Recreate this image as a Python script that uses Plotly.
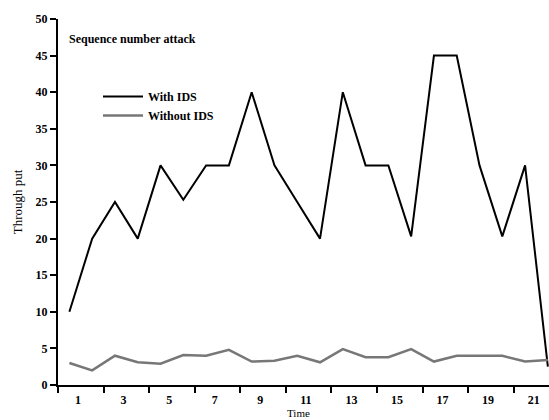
import plotly.graph_objects as go

# Time steps and throughput readings for the two runs
time_steps = list(range(1, 23))
with_ids = [10, 20, 25, 20, 30, 25.3, 30, 30, 40, 30, 25, 20,
            40, 30, 30, 20.3, 45, 45, 30, 20.3, 30, 2.5]
without_ids = [3.0, 2.0, 4.0, 3.1, 2.9, 4.1, 4.0, 4.8, 3.2, 3.3, 4.0, 3.1,
               4.9, 3.8, 3.8, 4.9, 3.2, 4.0, 4.0, 4.0, 3.2, 3.4]

# Category ticks sit between pairs of time steps; labels are odd steps
x_tick_vals = [0.5 + 2 * i for i in range(11)]
x_tick_text = [str(1 + 2 * i) for i in range(11)]
y_tick_vals = list(range(0, 51, 5))

serif = "Liberation Serif"

plot_left, plot_top, plot_bottom = 58, 19, 385
plot_w = 549 - plot_left
plot_h = plot_bottom - plot_top


def px_x(px):
    return (px - plot_left) / plot_w


def px_y(py):
    return (plot_bottom - py) / plot_h


fig = go.Figure()
fig.add_trace(go.Scatter(
    x=time_steps, y=with_ids, mode="lines", name="With IDS",
    line=dict(color="#000000", width=2),
))
fig.add_trace(go.Scatter(
    x=time_steps, y=without_ids, mode="lines", name="Without IDS",
    line=dict(color="#777777", width=2.5),
))

fig.update_layout(
    width=549, height=420,
    margin=dict(l=plot_left, r=0, t=plot_top, b=420 - plot_bottom),
    plot_bgcolor="white", paper_bgcolor="white",
    font=dict(family=serif, size=12, color="black"),
    showlegend=True,
    legend=dict(
        x=px_x(98), y=px_y(82),
        xanchor="left", yanchor="top",
        bgcolor="rgba(0,0,0,0)", tracegroupgap=0,
        font=dict(family=serif, size=12, color="black", weight="bold"),
        itemwidth=40,
    ),
    xaxis=dict(
        range=[0.5, 22.05],
        tickmode="array", tickvals=x_tick_vals, ticktext=x_tick_text,
        ticklabelshift=20, ticklabelstandoff=-3,
        ticks="outside", ticklen=6, tickwidth=2, tickcolor="black",
        showline=True, linecolor="black", linewidth=2,
        showgrid=False, zeroline=False,
        tickfont=dict(family=serif, size=12, weight="bold"),
    ),
    yaxis=dict(
        range=[0, 50],
        tickmode="array", tickvals=y_tick_vals,
        ticks="outside", ticklen=6, tickwidth=2, tickcolor="black",
        showline=True, linecolor="black", linewidth=2,
        showgrid=False, zeroline=False,
        tickfont=dict(family=serif, size=12, weight="bold"),
        title=dict(text="Through put", font=dict(family=serif, size=13), standoff=10),
    ),
    annotations=[
        dict(
            text="Sequence number attack",
            x=px_x(67), y=px_y(39),
            xref="paper", yref="paper", showarrow=False,
            xanchor="left", yanchor="middle",
            font=dict(family=serif, size=12, weight="bold"),
        ),
        dict(
            text="Time",
            x=px_x(298), y=px_y(413),
            xref="paper", yref="paper", showarrow=False,
            xanchor="center", yanchor="middle",
            font=dict(family=serif, size=11),
        ),
    ],
)

fig.write_html("out.html")
